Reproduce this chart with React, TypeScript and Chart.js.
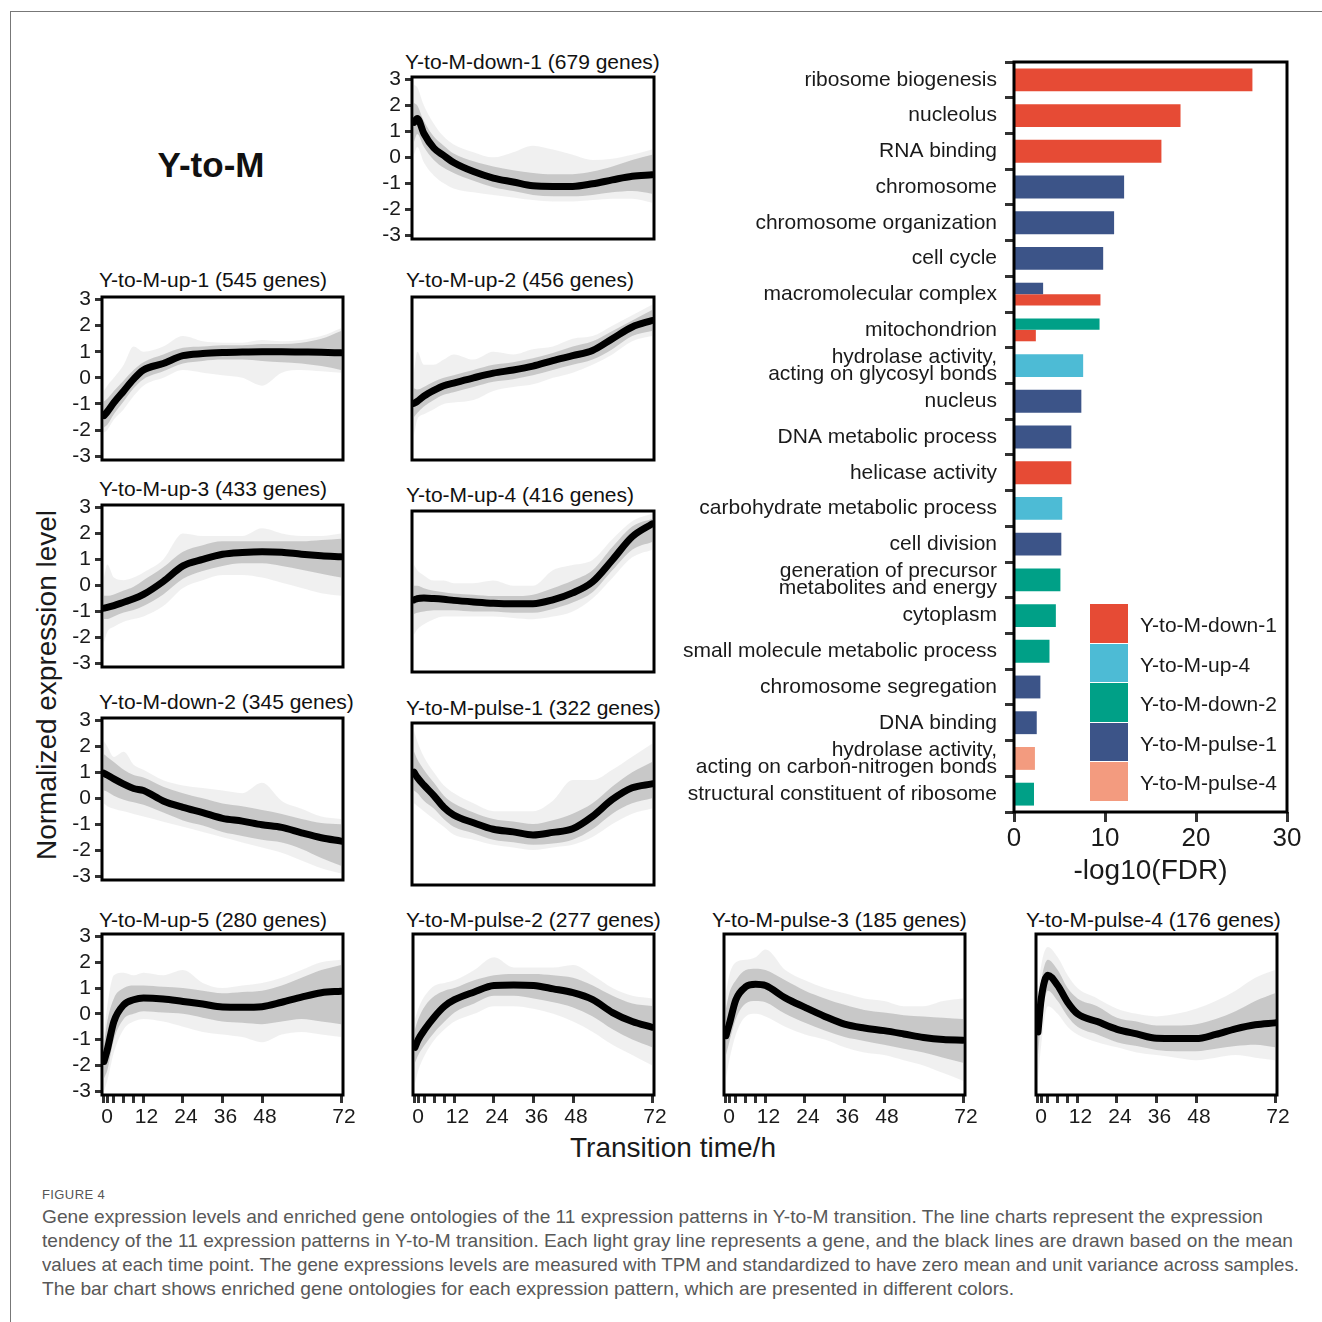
import React, { useEffect, useLayoutEffect, useRef } from "react";
import { Chart, registerables } from "chart.js";
Chart.register(...registerables);

const FONT = "'Liberation Sans', Arial, Helvetica, sans-serif";
Chart.defaults.font.family = FONT;
Chart.defaults.color = "#1a1a1a";

// ---------- time-course data ----------
const TIME = [0, 1, 3, 6, 9, 12, 18, 24, 30, 36, 42, 48, 54, 60, 66, 72];
const TIME_TICKS = [0, 1, 3, 6, 9, 12, 24, 36, 48, 72];
const TIME_LABELS = [0, 12, 24, 36, 48, 72];
const Y_TICKS = [-3, -2, -1, 0, 1, 2, 3];

const DOWN1_MEAN = [1.35, 1.5, 0.92, 0.36, 0.07, -0.2, -0.55, -0.8, -0.95, -1.1, -1.12, -1.12, -1.02, -0.87, -0.73, -0.67];
const DOWN1_HI = [2.1, 2.0, 1.4, 0.8, 0.45, 0.15, -0.15, -0.35, -0.5, -0.6, -0.65, -0.65, -0.55, -0.35, -0.1, 0.1];
const DOWN1_LO = [0.6, 0.9, 0.4, -0.1, -0.4, -0.6, -0.9, -1.15, -1.3, -1.45, -1.5, -1.5, -1.45, -1.35, -1.3, -1.4];
const DOWN1_HI2 = [2.8, 2.7, 2.0, 1.3, 0.8, 0.5, 0.2, 0.0, 0.2, 0.45, 0.3, 0.1, -0.1, -0.05, 0.1, 0.3];
const DOWN1_LO2 = [0.1, 0.4, -0.2, -0.7, -1.0, -1.2, -1.35, -1.45, -1.55, -1.65, -1.7, -1.7, -1.65, -1.6, -1.6, -1.75];

const UP1_MEAN = [-1.45, -1.3, -0.95, -0.5, -0.05, 0.3, 0.55, 0.85, 0.93, 0.97, 0.99, 1.0, 1.0, 0.99, 0.98, 0.96];
const UP1_HI = [-0.9, -0.8, -0.5, -0.1, 0.3, 0.6, 0.9, 1.15, 1.2, 1.25, 1.25, 1.3, 1.3, 1.35, 1.5, 1.8];
const UP1_LO = [-1.9, -1.8, -1.4, -0.9, -0.4, -0.05, 0.25, 0.55, 0.65, 0.7, 0.7, 0.65, 0.6, 0.55, 0.45, 0.3];
const UP1_HI2 = [-0.5, -0.3, 0.0, 0.5, 1.2, 1.0, 1.2, 1.6, 1.4, 1.35, 1.35, 1.45, 1.4, 1.45, 1.6, 1.9];
const UP1_LO2 = [-2.1, -2.0, -1.6, -1.2, -0.7, -0.3, 0.0, 0.3, 0.2, 0.1, 0.0, -0.3, 0.2, 0.3, 0.25, 0.2];

const UP2_MEAN = [-0.98, -0.9, -0.7, -0.48, -0.3, -0.2, 0.0, 0.18, 0.3, 0.45, 0.66, 0.85, 1.05, 1.5, 1.95, 2.2];
const UP2_HI = [-0.4, -0.45, -0.35, -0.15, 0.0, 0.1, 0.3, 0.5, 0.6, 0.75, 0.95, 1.2, 1.4, 1.8, 2.2, 2.6];
const UP2_LO = [-1.5, -1.35, -1.1, -0.85, -0.65, -0.55, -0.35, -0.15, -0.05, 0.1, 0.3, 0.5, 0.7, 1.1, 1.6, 1.8];
const UP2_HI2 = [0.2, 1.0, 0.5, 0.5, 0.7, 0.9, 0.7, 1.0, 0.9, 1.1, 1.2, 1.5, 1.6, 2.0, 2.4, 2.8];
const UP2_LO2 = [-2.2, -1.6, -1.4, -1.2, -1.0, -0.95, -0.85, -0.5, -0.35, -0.25, 0.0, 0.2, 0.5, 0.9, 1.4, 1.6];

const UP3_MEAN = [-0.88, -0.85, -0.78, -0.65, -0.52, -0.35, 0.15, 0.75, 1.0, 1.2, 1.27, 1.3, 1.28, 1.2, 1.14, 1.1];
const UP3_HI = [-0.4, -0.4, -0.35, -0.2, -0.05, 0.2, 0.7, 1.3, 1.55, 1.7, 1.7, 1.7, 1.7, 1.7, 1.75, 1.8];
const UP3_LO = [-1.3, -1.3, -1.2, -1.05, -0.95, -0.8, -0.35, 0.25, 0.55, 0.75, 0.85, 0.85, 0.75, 0.6, 0.45, 0.3];
const UP3_HI2 = [0.3, 0.8, 0.3, 0.2, 0.3, 0.5, 1.0, 2.0, 1.9, 1.9, 1.9, 2.2, 2.0, 1.9, 1.9, 2.0];
const UP3_LO2 = [-2.2, -1.8, -1.6, -1.4, -1.3, -1.2, -0.8, -0.1, 0.2, 0.4, 0.4, 0.3, 0.1, -0.1, -0.3, -0.4];

const UP4_MEAN = [-0.35, -0.3, -0.28, -0.3, -0.33, -0.37, -0.43, -0.48, -0.5, -0.5, -0.35, -0.08, 0.35, 1.2, 2.1, 2.6];
const UP4_HI = [0.2, 0.2, 0.1, 0.0, -0.05, -0.1, -0.15, -0.2, -0.2, -0.15, 0.1, 0.4, 0.8, 1.7, 2.5, 2.8];
const UP4_LO = [-0.9, -0.85, -0.8, -0.75, -0.75, -0.75, -0.8, -0.8, -0.85, -0.85, -0.7, -0.45, -0.05, 0.8, 1.6, 1.9];
const UP4_HI2 = [1.0, 0.8, 0.6, 0.4, 0.4, 0.3, 0.3, 0.4, 0.2, 0.2, 0.8, 1.0, 1.2, 2.0, 2.7, 3.0];
const UP4_LO2 = [-1.7, -1.5, -1.3, -1.1, -1.0, -1.0, -1.0, -1.0, -1.05, -1.1, -1.0, -0.8, -0.3, 0.5, 1.3, 1.6];

const DOWN2_MEAN = [0.97, 0.9, 0.75, 0.55, 0.38, 0.3, -0.1, -0.35, -0.55, -0.77, -0.88, -1.02, -1.12, -1.33, -1.52, -1.65];
const DOWN2_HI = [1.7, 1.6, 1.4, 1.1, 0.9, 0.8, 0.45, 0.2, 0.0, -0.2, -0.3, -0.45, -0.6, -0.8, -0.95, -1.0];
const DOWN2_LO = [0.3, 0.25, 0.1, -0.05, -0.15, -0.25, -0.55, -0.85, -1.05, -1.3, -1.45, -1.6, -1.7, -1.95, -2.3, -2.6];
const DOWN2_HI2 = [2.2, 2.0, 1.6, 1.8, 1.3, 1.1, 0.7, 0.5, 0.4, 0.3, 0.2, 0.6, -0.1, -0.4, -0.7, -0.8];
const DOWN2_LO2 = [-0.2, -0.3, -0.4, -0.5, -0.6, -0.7, -0.9, -1.1, -1.3, -1.5, -1.7, -1.9, -2.1, -2.4, -2.7, -2.9];

const PULSE1_MEAN = [1.2, 1.0, 0.7, 0.3, -0.15, -0.45, -0.75, -1.0, -1.1, -1.22, -1.12, -0.98, -0.5, 0.15, 0.6, 0.75];
const PULSE1_HI = [2.0, 1.7, 1.3, 0.8, 0.3, 0.0, -0.35, -0.6, -0.7, -0.8, -0.65, -0.4, 0.0, 0.65, 1.2, 1.6];
const PULSE1_LO = [0.5, 0.4, 0.1, -0.2, -0.6, -0.9, -1.15, -1.4, -1.5, -1.6, -1.55, -1.4, -1.0, -0.4, 0.0, 0.2];
const PULSE1_HI2 = [2.8, 2.4, 1.8, 1.2, 0.7, 0.4, 0.0, -0.3, -0.3, -0.3, 0.1, 0.9, 0.9, 1.3, 1.8, 2.3];
const PULSE1_LO2 = [0.0, -0.1, -0.3, -0.6, -0.9, -1.2, -1.4, -1.6, -1.7, -1.8, -1.7, -1.6, -1.3, -0.8, -0.4, -0.2];

const UP5_MEAN = [-1.85, -1.4, -0.3, 0.35, 0.55, 0.62, 0.58, 0.48, 0.38, 0.27, 0.26, 0.28, 0.45, 0.65, 0.82, 0.88];
const UP5_HI = [-1.2, -0.3, 0.6, 1.0, 1.1, 1.1, 1.05, 1.0, 0.9, 0.8, 0.85, 0.9, 1.1, 1.4, 1.7, 1.9];
const UP5_LO = [-2.5, -2.2, -1.0, -0.2, 0.0, 0.1, 0.05, 0.0, -0.15, -0.3, -0.35, -0.4, -0.3, -0.2, -0.3, -0.4];
const UP5_HI2 = [-0.8, 0.3, 1.5, 1.6, 1.5, 1.6, 1.5, 1.7, 1.2, 1.0, 1.1, 1.2, 1.4, 1.7, 2.0, 2.1];
const UP5_LO2 = [-3.0, -2.6, -1.5, -0.6, -0.3, -0.2, -0.3, -0.5, -0.7, -0.8, -0.9, -1.1, -0.8, -0.7, -0.8, -0.9];

const PULSE2_MEAN = [-1.3, -1.0, -0.6, -0.1, 0.3, 0.55, 0.85, 1.1, 1.12, 1.1, 0.97, 0.82, 0.55, 0.05, -0.3, -0.52];
const PULSE2_HI = [-0.6, -0.2, 0.3, 0.7, 0.9, 1.0, 1.3, 1.5, 1.55, 1.55, 1.5, 1.4, 1.1, 0.7, 0.4, 0.3];
const PULSE2_LO = [-1.9, -1.6, -1.2, -0.7, -0.3, 0.05, 0.4, 0.7, 0.7, 0.6, 0.45, 0.25, -0.1, -0.6, -1.0, -1.3];
const PULSE2_HI2 = [-0.2, 0.2, 0.7, 1.1, 1.2, 1.3, 1.7, 2.2, 1.8, 1.8, 1.8, 1.9, 1.5, 1.0, 0.7, 0.6];
const PULSE2_LO2 = [-2.7, -2.2, -1.6, -1.0, -0.6, -0.3, 0.0, 0.3, 0.3, 0.2, 0.0, -0.3, -0.7, -1.2, -1.6, -2.0];

const PULSE3_MEAN = [-0.85, -0.4, 0.55, 1.05, 1.15, 1.1, 0.62, 0.25, -0.1, -0.4, -0.55, -0.65, -0.78, -0.92, -1.0, -1.02];
const PULSE3_HI = [0.2, 0.8, 1.3, 1.7, 1.75, 1.7, 1.3, 0.9, 0.6, 0.35, 0.15, 0.05, -0.05, -0.1, -0.15, -0.2];
const PULSE3_LO = [-1.6, -1.1, -0.2, 0.4, 0.5, 0.45, 0.0, -0.35, -0.65, -0.9, -1.05, -1.2, -1.35, -1.5, -1.7, -1.9];
const PULSE3_HI2 = [0.8, 1.5, 2.0, 2.1, 2.2, 2.5, 1.7, 1.3, 1.0, 0.8, 0.6, 0.5, 0.3, 0.3, 0.5, 0.6];
const PULSE3_LO2 = [-2.5, -1.8, -0.8, -0.1, 0.0, -0.1, -0.5, -0.8, -1.0, -1.3, -1.5, -1.6, -1.8, -2.0, -2.3, -2.6];

const PULSE4_MEAN = [-0.7, 0.6, 1.5, 1.1, 0.45, 0.0, -0.3, -0.6, -0.78, -0.95, -0.96, -0.96, -0.8, -0.58, -0.42, -0.35];
const PULSE4_HI = [0.2, 1.3, 2.1, 1.7, 1.0, 0.6, 0.3, -0.15, -0.3, -0.45, -0.45, -0.4, -0.2, 0.1, 0.5, 0.8];
const PULSE4_LO = [-1.6, -0.3, 0.9, 0.5, -0.1, -0.5, -0.8, -1.1, -1.25, -1.4, -1.45, -1.45, -1.35, -1.25, -1.2, -1.3];
const PULSE4_HI2 = [0.8, 1.9, 2.6, 2.2, 1.5, 1.0, 0.6, 0.2, 0.0, -0.1, 0.0, 0.2, 0.5, 0.9, 1.4, 1.7];
const PULSE4_LO2 = [-2.5, -1.2, 0.3, 0.0, -0.5, -0.8, -1.1, -1.3, -1.5, -1.6, -1.7, -1.8, -1.7, -1.6, -1.7, -1.8];

const PANEL_TITLES = [
  "Y-to-M-down-1 (679 genes)",
  "Y-to-M-up-1 (545 genes)",
  "Y-to-M-up-2 (456 genes)",
  "Y-to-M-up-3 (433 genes)",
  "Y-to-M-up-4 (416 genes)",
  "Y-to-M-down-2 (345 genes)",
  "Y-to-M-pulse-1 (322 genes)",
  "Y-to-M-up-5 (280 genes)",
  "Y-to-M-pulse-2 (277 genes)",
  "Y-to-M-pulse-3 (185 genes)",
  "Y-to-M-pulse-4 (176 genes)",
];
const PANEL_SERIES = [
  [DOWN1_MEAN, DOWN1_HI, DOWN1_LO, DOWN1_HI2, DOWN1_LO2],
  [UP1_MEAN, UP1_HI, UP1_LO, UP1_HI2, UP1_LO2],
  [UP2_MEAN, UP2_HI, UP2_LO, UP2_HI2, UP2_LO2],
  [UP3_MEAN, UP3_HI, UP3_LO, UP3_HI2, UP3_LO2],
  [UP4_MEAN, UP4_HI, UP4_LO, UP4_HI2, UP4_LO2],
  [DOWN2_MEAN, DOWN2_HI, DOWN2_LO, DOWN2_HI2, DOWN2_LO2],
  [PULSE1_MEAN, PULSE1_HI, PULSE1_LO, PULSE1_HI2, PULSE1_LO2],
  [UP5_MEAN, UP5_HI, UP5_LO, UP5_HI2, UP5_LO2],
  [PULSE2_MEAN, PULSE2_HI, PULSE2_LO, PULSE2_HI2, PULSE2_LO2],
  [PULSE3_MEAN, PULSE3_HI, PULSE3_LO, PULSE3_HI2, PULSE3_LO2],
  [PULSE4_MEAN, PULSE4_HI, PULSE4_LO, PULSE4_HI2, PULSE4_LO2],
];

// ---------- GO enrichment data ----------
const GO_TERMS: (string | string[])[] = [
  "ribosome biogenesis",
  "nucleolus",
  "RNA binding",
  "chromosome",
  "chromosome organization",
  "cell cycle",
  "macromolecular complex",
  "mitochondrion",
  ["hydrolase activity,", "acting on glycosyl bonds"],
  "nucleus",
  "DNA metabolic process",
  "helicase activity",
  "carbohydrate metabolic process",
  "cell division",
  ["generation of precursor", "metabolites and energy"],
  "cytoplasm",
  "small molecule metabolic process",
  "chromosome segregation",
  "DNA binding",
  ["hydrolase activity,", "acting on carbon-nitrogen bonds"],
  "structural constituent of ribosome",
];
const FDR_PULSE1 = [null, null, null, 12.1, 11.0, 9.8, 3.2, null, null, 7.4, 6.3, null, null, 5.2, null, null, null, 2.9, 2.5, null, null];
const FDR_DOWN2 = [null, null, null, null, null, null, null, 9.4, null, null, null, null, null, null, 5.1, 4.6, 3.9, null, null, null, 2.2];
const FDR_DOWN1 = [26.2, 18.3, 16.2, null, null, null, 9.5, 2.4, null, null, null, 6.3, null, null, null, null, null, null, null, null, null];
const FDR_UP4 = [null, null, null, null, null, null, null, null, 7.6, null, null, null, 5.3, null, null, null, null, null, null, null, null];
const FDR_PULSE4 = [null, null, null, null, null, null, null, null, null, null, null, null, null, null, null, null, null, null, null, 2.3, null];
const FDR_TICKS = [0, 10, 20, 30];

const CLUSTER_NAMES = ["Y-to-M-pulse-1", "Y-to-M-down-2", "Y-to-M-down-1", "Y-to-M-up-4", "Y-to-M-pulse-4"];
const CLUSTER_VALUES = [FDR_PULSE1, FDR_DOWN2, FDR_DOWN1, FDR_UP4, FDR_PULSE4];
const LEGEND_ORDER = ["Y-to-M-down-1", "Y-to-M-up-4", "Y-to-M-down-2", "Y-to-M-pulse-1", "Y-to-M-pulse-4"];

// ---------- styles / layout ----------
const CLUSTER_COLORS: Record<string, string> = {
  "Y-to-M-down-1": "#E64B35",
  "Y-to-M-up-4": "#4DBBD5",
  "Y-to-M-down-2": "#00A087",
  "Y-to-M-pulse-1": "#3C5488",
  "Y-to-M-pulse-4": "#F39B7F",
};
const INNER_GRAY = "rgba(198,198,198,0.95)";
const OUTER_GRAY = "rgba(238,238,238,0.9)";

// box: [x, y, w, h], title: [x, centerY], showY, showX
const LAYOUT = [
  { box: [412, 77, 242, 162], title: [405, 62], showY: true, showX: false },
  { box: [102, 297, 241, 163], title: [99, 280], showY: true, showX: false },
  { box: [412, 297, 242, 163], title: [406, 280], showY: false, showX: false },
  { box: [102, 505, 241, 162], title: [99, 489], showY: true, showX: false },
  { box: [412, 511, 242, 161], title: [406, 495], showY: false, showX: false },
  { box: [102, 718, 241, 162], title: [99, 702], showY: true, showX: false },
  { box: [412, 723, 242, 162], title: [406, 708], showY: false, showX: false },
  { box: [102, 934, 241, 161], title: [99, 920], showY: true, showX: true },
  { box: [413, 934, 241, 161], title: [406, 920], showY: false, showX: true },
  { box: [724, 934, 241, 161], title: [712, 920], showY: false, showX: true },
  { box: [1036, 934, 241, 161], title: [1026, 920], showY: false, showX: true },
];
const CAPTION_RIGHT = [1263, 1293, 1299, 1014];

const boxPlugin = {
  id: "panelBox",
  afterDatasetsDraw(chart: any) {
    const { ctx, chartArea: a } = chart;
    ctx.save();
    ctx.lineWidth = 3;
    ctx.strokeStyle = "#000";
    ctx.strokeRect(a.left, a.top, a.right - a.left, a.bottom - a.top);
    ctx.restore();
  },
};

const pts = (ys: number[]) => TIME.map((x, i) => ({ x, y: ys[i] }));

function LinePanel({ idx }: { idx: number }) {
  const ref = useRef<HTMLCanvasElement>(null);
  const L = LAYOUT[idx];
  const [bx, by, bw, bh] = L.box;
  const leftW = L.showY ? 44 : 6;
  const rightW = L.showX ? 16 : 6;
  const topH = 6;
  const bottomH = L.showX ? 44 : 6;
  const W = leftW + bw + rightW;
  const H = topH + bh + bottomH;

  useEffect(() => {
    const [mean, hi, lo, hi2, lo2] = PANEL_SERIES[idx];
    const band = { borderWidth: 0, pointRadius: 0, cubicInterpolationMode: "monotone" as const, tension: 0.4 };
    const chart = new Chart(ref.current!, {
      type: "line",
      data: {
        datasets: [
          { ...band, data: pts(hi2), fill: "+1", backgroundColor: OUTER_GRAY, order: 3 },
          { ...band, data: pts(lo2), fill: false, order: 3 },
          { ...band, data: pts(hi), fill: "+1", backgroundColor: INNER_GRAY, order: 2 },
          { ...band, data: pts(lo), fill: false, order: 2 },
          {
            data: pts(mean),
            borderColor: "#000",
            borderWidth: 7,
            pointRadius: 0,
            fill: false,
            tension: 0.4,
            cubicInterpolationMode: "monotone",
            borderCapStyle: "round",
            borderJoinStyle: "round",
            order: 1,
          },
        ],
      },
      options: {
        responsive: false,
        animation: false,
        events: [],
        layout: {
          padding: { left: L.showY ? 0 : leftW, right: rightW, top: topH, bottom: L.showX ? 0 : bottomH },
        },
        plugins: { legend: { display: false }, tooltip: { enabled: false } },
        scales: {
          x: {
            type: "linear",
            display: L.showX,
            min: -0.6,
            max: 72.6,
            afterBuildTicks: (s: any) => {
              s.ticks = TIME_TICKS.map((v) => ({ value: v }));
            },
            afterFit: (s: any) => {
              s.height = L.showX ? bottomH : 0;
              s.paddingLeft = 0;
              s.paddingRight = 0;
            },
            ticks: {
              autoSkip: false,
              maxRotation: 0,
              padding: 2,
              labelOffset: 3,
              font: { size: 21 },
              color: "#1a1a1a",
              callback: (v: any) => (TIME_LABELS.includes(Number(v)) ? String(v) : ""),
            },
            grid: { drawOnChartArea: false, drawTicks: true, tickLength: 8, tickWidth: 3, tickColor: "#333" },
            border: { display: false },
          },
          y: {
            type: "linear",
            display: L.showY,
            min: -3.15,
            max: 3.1,
            afterBuildTicks: (s: any) => {
              s.ticks = Y_TICKS.map((v) => ({ value: v }));
            },
            afterFit: (s: any) => {
              s.width = L.showY ? leftW : 0;
              s.paddingTop = 0;
              s.paddingBottom = 0;
            },
            ticks: { autoSkip: false, padding: 4, font: { size: 21 }, color: "#1a1a1a" },
            grid: { drawOnChartArea: false, drawTicks: true, tickLength: 7, tickWidth: 3, tickColor: "#333" },
            border: { display: false },
          },
        },
      },
      plugins: [boxPlugin],
    } as any);
    return () => chart.destroy();
  }, [idx]);

  return (
    <>
      <div
        style={{
          position: "absolute",
          left: L.title[0],
          top: L.title[1] - 12,
          height: 24,
          lineHeight: "24px",
          fontSize: 21,
          fontFamily: FONT,
          color: "#111",
          whiteSpace: "nowrap",
        }}
      >
        {PANEL_TITLES[idx]}
      </div>
      <canvas
        ref={ref}
        width={W}
        height={H}
        style={{ position: "absolute", left: bx - leftW, top: by - topH, width: W, height: H }}
      />
    </>
  );
}

function BarPanel() {
  const ref = useRef<HTMLCanvasElement>(null);
  const left = 670;
  const top = 55;
  const W = 640;
  const H = 835;
  useEffect(() => {
    const chart = new Chart(ref.current!, {
      type: "bar",
      data: {
        labels: GO_TERMS,
        datasets: CLUSTER_NAMES.map((name, i) => ({
          label: name,
          data: CLUSTER_VALUES[i],
          backgroundColor: CLUSTER_COLORS[name],
          borderWidth: 0,
          skipNull: true,
          categoryPercentage: 0.64,
          barPercentage: 1,
        })),
      },
      options: {
        indexAxis: "y",
        responsive: false,
        animation: false,
        events: [],
        layout: { padding: { top: 7, right: 23, left: 0, bottom: 0 } },
        plugins: { legend: { display: false }, tooltip: { enabled: false } },
        scales: {
          x: {
            type: "linear",
            min: 0,
            max: 30,
            afterBuildTicks: (s: any) => {
              s.ticks = FDR_TICKS.map((v) => ({ value: v }));
            },
            afterFit: (s: any) => {
              s.height = 78;
              s.paddingLeft = 0;
              s.paddingRight = 0;
            },
            ticks: { padding: 1, font: { size: 26 }, color: "#1a1a1a", maxRotation: 0 },
            grid: { drawOnChartArea: false, drawTicks: true, tickLength: 10, tickWidth: 3, tickColor: "#333" },
            border: { display: false },
            title: {
              display: true,
              text: "-log10(FDR)",
              font: { size: 28 },
              color: "#1a1a1a",
              padding: { top: 0, bottom: 2 },
            },
          },
          y: {
            type: "category",
            afterFit: (s: any) => {
              s.width = 344;
              s.paddingTop = 0;
              s.paddingBottom = 0;
            },
            ticks: { autoSkip: false, padding: 8, font: { size: 21, lineHeight: 0.82 }, color: "#1a1a1a" },
            grid: { drawOnChartArea: false, drawTicks: true, tickLength: 9, tickWidth: 3, tickColor: "#333" },
            border: { display: false },
          },
        },
      },
      plugins: [boxPlugin],
    } as any);
    return () => chart.destroy();
  }, []);
  return (
    <>
      <canvas ref={ref} width={W} height={H} style={{ position: "absolute", left, top, width: W, height: H }} />
      {LEGEND_ORDER.map((name, i) => (
        <React.Fragment key={name}>
          <div
            style={{
              position: "absolute",
              left: 1090,
              top: 604 + i * 39.6,
              width: 38,
              height: 38.6,
              background: CLUSTER_COLORS[name],
            }}
          />
          <div
            style={{
              position: "absolute",
              left: 1140,
              top: 604 + i * 39.6 + 9,
              height: 24,
              lineHeight: "24px",
              fontSize: 21,
              fontFamily: FONT,
              color: "#1a1a1a",
              whiteSpace: "nowrap",
            }}
          >
            {name}
          </div>
        </React.Fragment>
      ))}
    </>
  );
}

const CAPTION_LINES = [
  "Gene expression levels and enriched gene ontologies of the 11 expression patterns in Y-to-M transition. The line charts represent the expression",
  "tendency of the 11 expression patterns in Y-to-M transition. Each light gray line represents a gene, and the black lines are drawn based on the mean",
  "values at each time point. The gene expressions levels are measured with TPM and standardized to have zero mean and unit variance across samples.",
  "The bar chart shows enriched gene ontologies for each expression pattern, which are presented in different colors.",
];

function CaptionLine({ i }: { i: number }) {
  const ref = useRef<HTMLDivElement>(null);
  useLayoutEffect(() => {
    const el = ref.current!;
    el.style.transform = "none";
    const w = el.getBoundingClientRect().width;
    const target = CAPTION_RIGHT[i] - 42;
    if (w > 0) el.style.transform = `scaleX(${target / w})`;
  }, [i]);
  return (
    <div
      ref={ref}
      style={{
        position: "absolute",
        left: 42,
        top: 1205 + i * 24,
        fontSize: 19,
        lineHeight: "24px",
        color: "#585858",
        fontFamily: FONT,
        whiteSpace: "nowrap",
        transformOrigin: "0 50%",
      }}
    >
      {CAPTION_LINES[i]}
    </div>
  );
}

export default function App() {
  const text = (style: React.CSSProperties, content: string) => (
    <div style={{ position: "absolute", fontFamily: FONT, whiteSpace: "nowrap", ...style }}>{content}</div>
  );
  return (
    <div style={{ position: "absolute", left: 0, top: 0, width: 1322, height: 1322, background: "#fff", overflow: "hidden" }}>
      <div style={{ position: "absolute", left: 10, top: 11, width: 1320, height: 1320, borderTop: "1px solid #777", borderLeft: "1px solid #777" }} />
      {text({ left: 111, top: 143, width: 200, textAlign: "center", fontSize: 35, fontWeight: "bold", lineHeight: "44px", color: "#111" }, "Y-to-M")}
      {text(
        {
          left: 47 - 200,
          top: 685 - 18,
          width: 400,
          textAlign: "center",
          fontSize: 28,
          lineHeight: "36px",
          color: "#1a1a1a",
          transform: "rotate(-90deg)",
        },
        "Normalized expression level"
      )}
      {text({ left: 473, top: 1131, width: 400, textAlign: "center", fontSize: 28, lineHeight: "34px", color: "#1a1a1a" }, "Transition time/h")}
      {LAYOUT.map((_, i) => (
        <LinePanel key={i} idx={i} />
      ))}
      <BarPanel />
      {text({ left: 42, top: 1187, fontSize: 13, lineHeight: "16px", color: "#555", letterSpacing: 0.4 }, "FIGURE 4")}
      {CAPTION_LINES.map((_, i) => (
        <CaptionLine key={i} i={i} />
      ))}
    </div>
  );
}
